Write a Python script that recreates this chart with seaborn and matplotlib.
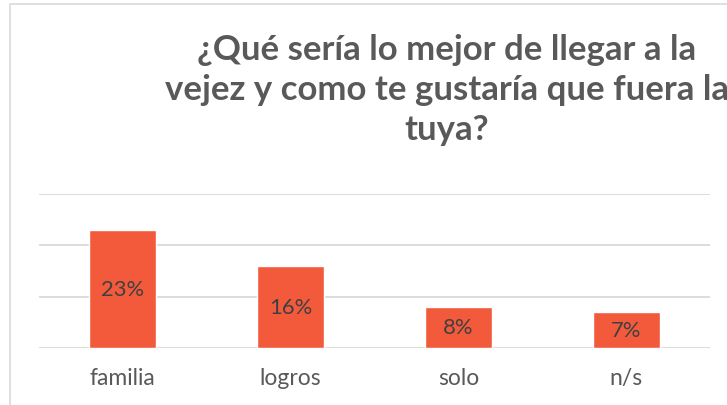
import matplotlib.pyplot as plt
import pandas as pd
import seaborn as sns
from matplotlib.patches import Rectangle

categorias = ["familia", "logros", "solo", "n/s"]
porcentajes = [23, 16, 8, 7]
etiquetas = ["23%", "16%", "8%", "7%"]
titulo = "¿Qué sería lo mejor de llegar a la\nvejez y como te gustaría que fuera la\ntuya?"

W, H = 727, 406
sns.set_theme(style="white")
plt.rcParams["font.family"] = ["Lato", "DejaVu Sans"]

df = pd.DataFrame({"categoria": categorias, "valor": porcentajes})

fig = plt.figure(figsize=(W / 100, H / 100), dpi=100)
fig.patch.set_facecolor("white")

# chart frame (continues past the right / bottom edge)
fig.patches.append(Rectangle((10 / W, -0.1), 1.2, (H - 5) / H + 0.1,
                             transform=fig.transFigure, fill=False,
                             edgecolor="#D9D9D9", linewidth=1.2))

ax = fig.add_axes([39 / W, (H - 349) / H, (710 - 39) / W, (349 - 195) / H])
sns.barplot(data=df, x="categoria", y="valor", color="#F25A3B",
            width=0.4, saturation=1, ax=ax)
ax.set_ylim(0, 30)
ax.set_yticks([0, 10, 20, 30])
ax.set_yticklabels([])
ax.grid(axis="y", color="#D9D9D9", linewidth=1.3)
ax.set_axisbelow(True)
for s in ax.spines.values():
    s.set_visible(False)
ax.tick_params(axis="both", length=0)
ax.tick_params(axis="x", labelsize=16.5, labelcolor="#595959", pad=14)
ax.tick_params(axis="y", pad=0)
ax.set_xlabel("")
ax.set_ylabel("")

ax.bar_label(ax.containers[0], labels=etiquetas, label_type="center",
             fontsize=15.8, color="#404040")

# title is wider than the visible area, as in the original crop
fig.text(447 / W, (H - 90) / H, titulo, ha="center", va="center",
         fontsize=25, fontweight="bold", color="#595959", linespacing=1.3)

fig.savefig("out.png", dpi=100)
